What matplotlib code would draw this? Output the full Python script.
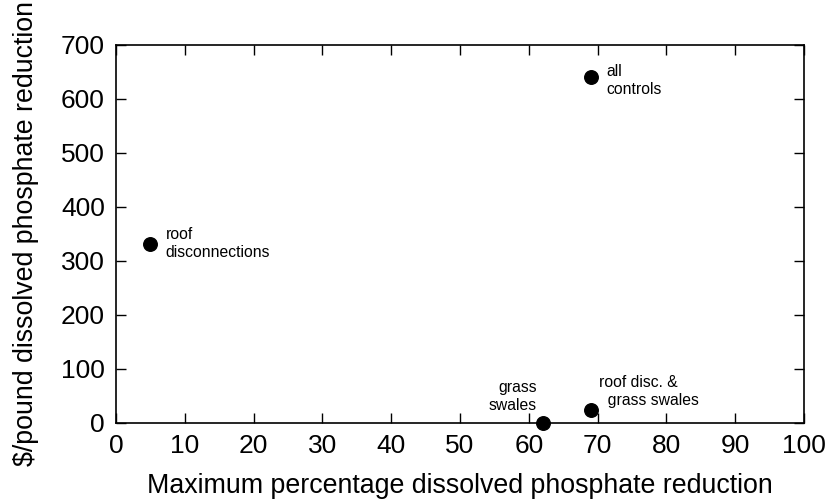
import numpy as np
import matplotlib.pyplot as plt

plt.rcParams['font.family'] = ['Liberation Sans', 'DejaVu Sans']

# Cost vs. maximum dissolved phosphate reduction
labels = ["roof\ndisconnections", "all\ncontrols", "grass\nswales", "roof disc. &\n  grass swales"]
pct_reduction = [5, 69, 62, 69]
cost_per_lb = [332, 640, 0, 25]

fig = plt.figure(figsize=(8.28, 5.04), dpi=100)
ax = fig.add_axes([116/828, 1 - 423/504, 688/828, 378/504])

ax.scatter(pct_reduction, cost_per_lb, s=95, color='black', zorder=3, clip_on=False)

# label placement (offsets in points)
offsets = [(11, 0), (11, -2), (-4, 19), (6, 13)]
aligns = ['left', 'left', 'right', 'left']
for lab, x, y, off, ha in zip(labels, pct_reduction, cost_per_lb, offsets, aligns):
    ax.annotate(lab, (x, y), xytext=off, textcoords='offset points',
                ha=ha, va='center', fontsize=11.3, linespacing=1.25)

ax.set_xlim(0, 100)
ax.set_ylim(0, 700)
ax.set_xticks(np.arange(0, 101, 10))
ax.set_yticks(np.arange(0, 701, 100))
ax.tick_params(direction='in', top=True, right=True, length=7.5, width=1,
               labelsize=19, pad=8)
for s in ax.spines.values():
    s.set_linewidth(1.2)

ax.set_xlabel("Maximum percentage dissolved phosphate reduction", fontsize=19.3, labelpad=11)
ax.set_ylabel("$/pound dissolved phosphate reduction", fontsize=19.3, labelpad=16)

fig.savefig("out.png", dpi=100)
